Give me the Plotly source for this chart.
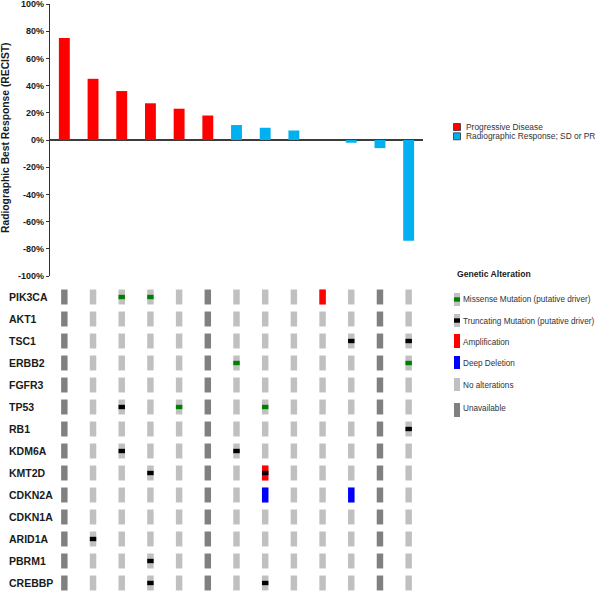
import plotly.graph_objects as go

# ---------------- data ----------------
patients = ["P1", "P2", "P3", "P4", "P5", "P6", "P7", "P8", "P9", "P10", "P11", "P12", "P13"]
best_response = [75, 45, 36, 27, 23, 18, 11, 9, 7, 0, -2, -6, -74]
response_group = ["PD", "PD", "PD", "PD", "PD", "PD",
                  "RR", "RR", "RR", "RR", "RR", "RR", "RR"]
group_names = {"PD": "Progressive Disease", "RR": "Radiographic Response; SD or PR"}

y_tick_values = [100, 80, 60, 40, 20, 0, -20, -40, -60, -80, -100]
y_tick_labels = ["100%", "80%", "60%", "40%", "20%", "0%", "-20%", "-40%", "-60%", "-80%", "-100%"]

genes = ["PIK3CA", "AKT1", "TSC1", "ERBB2", "FGFR3", "TP53", "RB1",
         "KDM6A", "KMT2D", "CDKN2A", "CDKN1A", "ARID1A", "PBRM1", "CREBBP"]
unavailable_patients = ["P1", "P6", "P12"]
missense = [("PIK3CA", "P3"), ("PIK3CA", "P4"), ("ERBB2", "P7"), ("ERBB2", "P13"),
            ("TP53", "P5"), ("TP53", "P8")]
truncating = [("TSC1", "P11"), ("TSC1", "P13"), ("TP53", "P3"), ("RB1", "P13"),
              ("KDM6A", "P3"), ("KDM6A", "P7"), ("KMT2D", "P4"), ("KMT2D", "P8"),
              ("ARID1A", "P2"), ("PBRM1", "P4"), ("CREBBP", "P4"), ("CREBBP", "P8")]
amplification = [("PIK3CA", "P10"), ("KMT2D", "P8")]
deep_deletion = [("CDKN2A", "P8"), ("CDKN2A", "P11")]

alteration_legend = ["Missense Mutation (putative driver)", "Truncating Mutation (putative driver)",
                     "Amplification", "Deep Deletion", "No alterations", "Unavailable"]

# ---------------- styles ----------------
W, H = 600, 591
FONT = "Arial, Liberation Sans, sans-serif"
RED = "#FF0000"
BLUE = "#00B0F0"
LIGHT = "#C0C0C0"
DARK = "#808080"
GREEN = "#008000"
BLACK = "#000000"
DEL = "#0000FF"
CELL_W = 0.225
CELL_H = 0.68
MUT_H = 0.2


def px_x(x):
    return x / W


def px_y(y):
    return 1 - y / H


fig = go.Figure()

# waterfall bars
for g in ["PD", "RR"]:
    xs = [p for p, grp in zip(patients, response_group) if grp == g]
    ys = [v for v, grp in zip(best_response, response_group) if grp == g]
    fig.add_trace(go.Bar(
        x=xs, y=ys, width=0.38, name=group_names[g],
        marker=dict(color=RED if g == "PD" else BLUE, line=dict(width=0)),
        xaxis="x", yaxis="y", showlegend=False, hoverinfo="skip"))


def cell_trace(pairs, color, h):
    xs = [p for g, p in pairs]
    bases = [genes.index(g) - h / 2 for g, p in pairs]
    return go.Bar(x=xs, y=[h] * len(pairs), base=bases, width=CELL_W,
                  marker=dict(color=color, line=dict(width=0)),
                  xaxis="x", yaxis="y2", showlegend=False, hoverinfo="skip")


light_cells = [(g, p) for g in genes for p in patients if p not in unavailable_patients]
dark_cells = [(g, p) for g in genes for p in patients if p in unavailable_patients]
fig.add_trace(cell_trace(light_cells, LIGHT, CELL_H))
fig.add_trace(cell_trace(dark_cells, DARK, CELL_H))
fig.add_trace(cell_trace(amplification, RED, CELL_H))
fig.add_trace(cell_trace(deep_deletion, DEL, CELL_H))
fig.add_trace(cell_trace(missense, GREEN, MUT_H))
fig.add_trace(cell_trace(truncating, BLACK, MUT_H))

annotations = []
shapes = []

# y-axis title
annotations.append(dict(
    text="Radiographic Best Response (RECIST)", x=px_x(5), y=px_y(138),
    xref="paper", yref="paper", textangle=-90, showarrow=False,
    xanchor="center", yanchor="middle",
    font=dict(family=FONT, size=10.3, color="#1a1a1a", weight="bold")))

# gene labels
for i, g in enumerate(genes):
    annotations.append(dict(
        text=g, x=px_x(7), y=i, xref="paper", yref="y2", showarrow=False,
        xanchor="left", yanchor="middle",
        font=dict(family=FONT, size=10.5, color="#1a1a1a", weight="bold")))

# response legend
for j, (g, col) in enumerate([("PD", RED), ("RR", BLUE)]):
    yc = 127 + j * 9.3
    shapes.append(dict(type="rect", xref="paper", yref="paper",
                       x0=px_x(453.5), x1=px_x(460.5), y0=px_y(yc + 3.5), y1=px_y(yc - 3.5),
                       fillcolor=col, line=dict(color="#333333", width=0.8)))
    annotations.append(dict(
        text=group_names[g], x=px_x(464), y=px_y(yc), xref="paper", yref="paper",
        showarrow=False, xanchor="left", yanchor="middle",
        font=dict(family=FONT, size=8.4, color="#333333")))

# genetic alteration legend
annotations.append(dict(
    text="Genetic Alteration", x=px_x(455), y=px_y(274), xref="paper", yref="paper",
    showarrow=False, xanchor="left", yanchor="middle",
    font=dict(family=FONT, size=8.6, color="#1a1a1a", weight="bold")))

icon_specs = [  # (top, bottom, bg colour, band colour)
    (293, 306, LIGHT, GREEN),
    (314, 327, LIGHT, BLACK),
    (334, 348, RED, None),
    (356, 369, DEL, None),
    (378, 391, LIGHT, None),
    (403, 417, DARK, None),
]
text_y = [299, 321, 342, 363, 385, 408]
for label, (t, b, bg, band), ty in zip(alteration_legend, icon_specs, text_y):
    shapes.append(dict(type="rect", xref="paper", yref="paper",
                       x0=px_x(454), x1=px_x(460), y0=px_y(b), y1=px_y(t),
                       fillcolor=bg, line=dict(width=0)))
    if band:
        mid = (t + b) / 2
        shapes.append(dict(type="rect", xref="paper", yref="paper",
                           x0=px_x(454), x1=px_x(460), y0=px_y(mid + 2.2), y1=px_y(mid - 2.2),
                           fillcolor=band, line=dict(width=0)))
    annotations.append(dict(
        text=label, x=px_x(461), y=px_y(ty), xref="paper", yref="paper",
        showarrow=False, xanchor="left", yanchor="middle",
        font=dict(family=FONT, size=8.2, color="#333333")))

fig.update_layout(
    width=W, height=H,
    margin=dict(l=0, r=0, t=0, b=0),
    paper_bgcolor="white", plot_bgcolor="white",
    barmode="overlay", showlegend=False,
    xaxis=dict(domain=[px_x(50), px_x(423)], range=[-0.5, 12.5], type="category",
               categoryorder="array", categoryarray=patients,
               showticklabels=False, showgrid=False, zeroline=False, showline=False,
               ticks="", anchor="y", automargin=False, fixedrange=True),
    yaxis=dict(domain=[px_y(276), px_y(4)], range=[-100, 100],
               tickvals=y_tick_values, ticktext=y_tick_labels,
               ticks="outside", ticklen=3, tickwidth=1, tickcolor="#333333",
               showline=True, linecolor="#333333", linewidth=1.3,
               showgrid=False, zeroline=True, zerolinecolor="#3c3c3c", zerolinewidth=1.5,
               tickfont=dict(family=FONT, size=9, color="#1a1a1a", weight="bold"),
               ticklabeloverflow="allow",
               anchor="x", automargin=False, fixedrange=True),
    yaxis2=dict(domain=[0, px_y(284)], range=[13.364, -0.591],
                showticklabels=False, showgrid=False, zeroline=False, showline=False,
                ticks="", anchor="x", automargin=False, fixedrange=True),
    annotations=annotations,
    shapes=shapes,
)

fig.write_html("out.html", config={"displayModeBar": False},
               post_script="document.body.style.margin='0px';document.body.style.overflow='hidden';")
